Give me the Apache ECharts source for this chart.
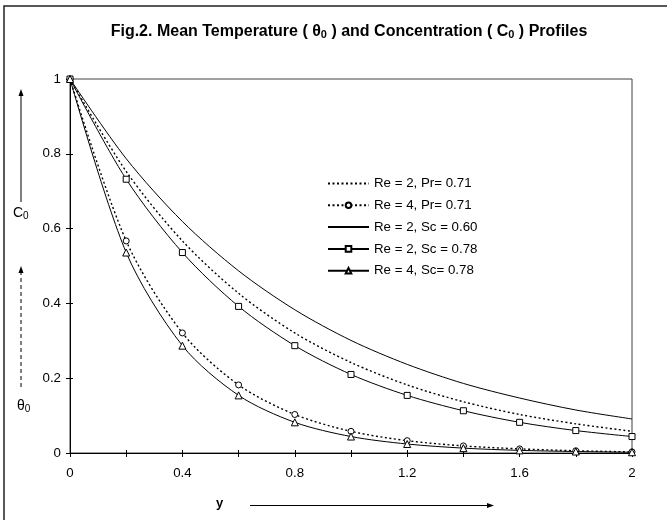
<!DOCTYPE html>
<html>
<head>
<meta charset="utf-8">
<script src="https://cdn.jsdelivr.net/npm/echarts@6/dist/echarts.min.js"></script>
<style>html,body{margin:0;padding:0;background:#fff}#c{width:667px;height:520px}</style>
</head>
<body>
<div id="c"></div>
<script>
const yPos = [0, 0.2, 0.4, 0.6, 0.8, 1.0, 1.2, 1.4, 1.6, 1.8, 2.0];
const xTickLabels = ['0', '0.4', '0.8', '1.2', '1.6', '2'];
const yTickLabels = ['0', '0.2', '0.4', '0.6', '0.8', '1'];
const seriesNames = ['Re = 2, Pr= 0.71', 'Re = 4, Pr= 0.71', 'Re = 2, Sc = 0.60', 'Re = 2, Sc = 0.78', 'Re = 4, Sc= 0.78'];
const theta_Re2_Pr071 = [1, 0.753, 0.567, 0.427, 0.321, 0.242, 0.182, 0.137, 0.103, 0.078, 0.058];
const theta_Re4_Pr071 = [1, 0.567, 0.321, 0.182, 0.103, 0.058, 0.033, 0.019, 0.011, 0.006, 0.003];
const conc_Re2_Sc060 = [1, 0.787, 0.619, 0.487, 0.383, 0.301, 0.237, 0.186, 0.147, 0.115, 0.091];
const conc_Re2_Sc078 = [1, 0.732, 0.536, 0.392, 0.287, 0.210, 0.154, 0.113, 0.082, 0.060, 0.044];
const conc_Re4_Sc078 = [1, 0.536, 0.287, 0.154, 0.082, 0.044, 0.024, 0.013, 0.007, 0.004, 0.002];

const FONT = '"Liberation Sans", Arial, sans-serif';
const pair = arr => yPos.map((x, i) => [x, arr[i]]);
const dotted = {color: '#000', width: 1.4, type: [2, 2.5]};
const solid = {color: '#000', width: 1, type: 'solid'};
const mk = {color: '#fff', borderColor: '#000', borderWidth: 1};
const noMk = {color: 'rgba(0,0,0,0)', borderWidth: 0};

const chart = echarts.init(document.getElementById('c'), null, {renderer: 'canvas'});
const xl = v => { const k = Math.round(v * 10); return k % 4 === 0 ? xTickLabels[k / 4] : ''; };
const yl = v => yTickLabels[Math.round(v * 5)];

chart.setOption({
  animation: false,
  backgroundColor: '#fff',
  title: {
    text: 'Fig.2. Mean Temperature ( {n|θ}{s|0} ) and Concentration ( C{s|0} ) Profiles',
    left: 349, top: 23, textAlign: 'center', padding: 0,
    textStyle: {
      fontFamily: FONT, fontSize: 16, fontWeight: 'bold', color: '#000',
      rich: {
        n: {fontFamily: FONT, fontSize: 16, fontWeight: 'bold', color: '#000'},
        s: {fontFamily: FONT, fontSize: 11, fontWeight: 'bold', color: '#000', verticalAlign: 'bottom', padding: [6, 0, 0, 0]}
      }
    }
  },
  legend: {
    orient: 'vertical', left: 327, top: 177, padding: 0,
    itemWidth: 41, itemHeight: 7, itemGap: 8.8,
    textStyle: {fontFamily: FONT, fontSize: 13.3, color: '#000'},
    data: seriesNames
  },
  grid: {left: 70, right: 35, top: 79, bottom: 67, show: true, borderColor: '#404040', borderWidth: 1},
  xAxis: [{
    type: 'value', min: 0, max: 2, interval: 0.2,
    axisLine: {show: true, lineStyle: {color: '#000', width: 1}},
    axisTick: {show: true, length: 4, lineStyle: {color: '#000'}},
    axisLabel: {formatter: xl, fontFamily: FONT, fontSize: 13.3, color: '#000', margin: 14},
    splitLine: {show: false}
  }, {
    type: 'value', min: 0, max: 2, interval: 0.2, position: 'bottom',
    axisLine: {show: false}, axisTick: {show: true, inside: true, length: 3, lineStyle: {color: '#000'}},
    axisLabel: {show: false}, splitLine: {show: false}
  }],
  yAxis: [{
    type: 'value', min: 0, max: 1, interval: 0.2,
    axisLine: {show: true, lineStyle: {color: '#000', width: 1}},
    axisTick: {show: true, length: 4, lineStyle: {color: '#000'}},
    axisLabel: {formatter: yl, fontFamily: FONT, fontSize: 13.3, color: '#000', margin: 9},
    splitLine: {show: false}
  }, {
    type: 'value', min: 0, max: 1, interval: 0.2, position: 'left',
    axisLine: {show: false}, axisTick: {show: true, inside: true, length: 3, lineStyle: {color: '#000'}},
    axisLabel: {show: false}, splitLine: {show: false}
  }],
  series: [
    {name: seriesNames[0], type: 'line', data: pair(theta_Re2_Pr071), smooth: 0.3, symbol: 'none', lineStyle: dotted, itemStyle: noMk},
    {name: seriesNames[1], type: 'line', data: pair(theta_Re4_Pr071), smooth: 0.3, symbol: 'circle', symbolSize: 6, lineStyle: dotted, itemStyle: mk, z: 3},
    {name: seriesNames[2], type: 'line', data: pair(conc_Re2_Sc060), smooth: 0.3, symbol: 'none', lineStyle: solid, itemStyle: noMk},
    {name: seriesNames[3], type: 'line', data: pair(conc_Re2_Sc078), smooth: 0.3, symbol: 'rect', symbolSize: 6, lineStyle: solid, itemStyle: mk, z: 3},
    {name: seriesNames[4], type: 'line', data: pair(conc_Re4_Sc078), smooth: 0.3, symbol: 'triangle', symbolSize: 7, lineStyle: solid, itemStyle: mk, z: 3}
  ],
  graphic: [
    {type: 'rect', shape: {x: 4, y: 6, width: 700, height: 600}, style: {fill: 'none', stroke: '#222', lineWidth: 1.5}, silent: true},
    {type: 'line', shape: {x1: 21, y1: 202, x2: 21, y2: 94}, style: {stroke: '#000', lineWidth: 1}},
    {type: 'polygon', shape: {points: [[21, 89], [18.5, 96], [23.5, 96]]}, style: {fill: '#000'}},
    {type: 'text', left: 13, top: 206, style: {text: 'C{s|0}', font: '14px ' + FONT, fill: '#000', rich: {s: {font: '10px ' + FONT, fill: '#000', padding: [6, 0, 0, 0]}}}},
    {type: 'line', shape: {x1: 21, y1: 387, x2: 21, y2: 271}, style: {stroke: '#000', lineWidth: 1, lineDash: [4, 3]}},
    {type: 'polygon', shape: {points: [[21, 266], [18.5, 273], [23.5, 273]]}, style: {fill: '#000'}},
    {type: 'text', left: 17, top: 399, style: {text: 'θ{s|0}', font: '14px ' + FONT, fill: '#000', rich: {s: {font: '10px ' + FONT, fill: '#000', padding: [6, 0, 0, 0]}}}},
    {type: 'text', left: 216, top: 497, style: {text: 'y', font: 'bold 13px ' + FONT, fill: '#000'}},
    {type: 'line', shape: {x1: 250, y1: 505.5, x2: 488, y2: 505.5}, style: {stroke: '#000', lineWidth: 1}},
    {type: 'polygon', shape: {points: [[494, 505.5], [487, 503], [487, 508]]}, style: {fill: '#000'}}
  ]
});
</script>
</body>
</html>
